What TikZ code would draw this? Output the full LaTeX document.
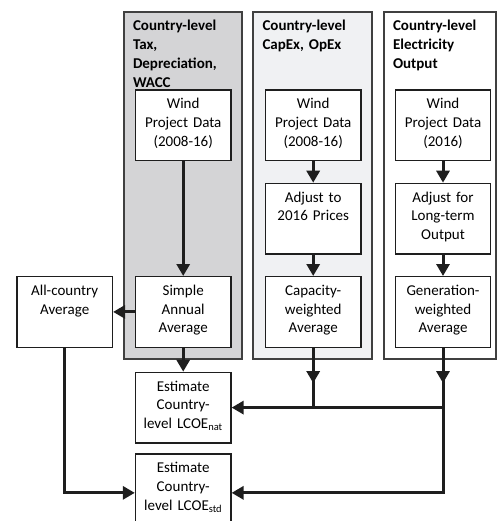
\documentclass[tikz,border=0pt]{standalone}
\usepackage{fontspec}
\setmainfont{Carlito}
\usetikzlibrary{arrows.meta}
\definecolor{panelgray}{RGB}{212,212,214}
\definecolor{panellight}{RGB}{240,241,243}
\definecolor{edgegray}{RGB}{64,64,64}
\definecolor{linedark}{RGB}{30,30,30}
\begin{document}
\begin{tikzpicture}[x=1pt, y=-1pt,
  font=\fontsize{15}{18.7}\selectfont,
  panel/.style={draw=edgegray, line width=1.8pt},
  head/.style={anchor=base west, inner sep=0pt, text width=105pt, align=left, font=\fontsize{15}{18.7}\selectfont\bfseries},
  box/.style={draw=linedark, line width=1.3pt, fill=white, anchor=north, text width=89.5pt, align=center, inner xsep=3pt, inner ysep=4pt, text height=14.8pt, text depth=47.7pt},
  conn/.style={draw=linedark, line width=3pt},
  arr/.style={conn, -{Triangle[length=12pt, width=13pt]}}]
  \useasboundingbox (0, 0) rectangle (497, 521);
  % panels
  \filldraw [panel, fill=panelgray] (124, 12) rectangle (242, 359);
  \filldraw [panel, fill=panellight] (253.3, 12) rectangle (372, 359);
  \filldraw [panel, fill=white] (384, 12) rectangle (496, 359);
  \node [head] (taxhead) at (132.8, 31) {Country-level\\Tax,\\Depreciation,\\WACC};
  \node [head] (capexhead) at (262.3, 31) {Country-level\\CapEx, OpEx};
  \node [head] (outhead) at (392.8, 31) {Country-level\\Electricity\\Output};
  % boxes
  \node [box] (wind1) at (183.2, 89.5) {Wind\\Project Data\\(2008-16)};
  \node [box] (avg1) at (183.2, 276) {Simple\\Annual\\Average};
  \node [box] (wind2) at (313.2, 89.5) {Wind\\Project Data\\(2008-16)};
  \node [box] (prices) at (313.2, 182.7) {Adjust to\\2016 Prices};
  \node [box] (cap) at (313.2, 276) {Capacity-\\weighted\\Average};
  \node [box] (wind3) at (443, 89.5) {Wind\\Project Data\\(2016)};
  \node [box] (longterm) at (443, 182.7) {Adjust for\\Long-term\\Output};
  \node [box] (gen) at (443, 276) {Generation-\\weighted\\Average};
  \node [box] (allc) at (64.7, 276) {All-country\\Average};
  \node [box] (nat) at (183.2, 371.7) {Estimate\\Country-\\level LCOE\textsubscript{nat}};
  \node [box, text depth=55pt] (std) at (183.2, 453.3) {Estimate\\Country-\\level LCOE\textsubscript{std}};
  % connectors
  \draw [arr] (wind1.south) -- (avg1.north);
  \draw [arr] (avg1.west) -- (allc.east);
  \draw [arr] (avg1.south) -- (nat.north);
  \draw [arr] (allc.south) |- (std.west);
  \draw [arr] (wind2.south) -- (prices.north);
  \draw [arr] (prices.south) -- (cap.north);
  \draw [arr] (wind3.south) -- (longterm.north);
  \draw [arr] (longterm.south) -- (gen.north);
  \draw [conn] (cap.south) -- (cap.south |- nat.east);
  \draw [arr] (cap.south) -- ++(0, 35.3);
  \draw [arr] (gen.south |- nat.east) -- (nat.east);
  \draw [arr] (gen.south) |- (std.east);
  \draw [arr] (gen.south) -- ++(0, 35.3);
\end{tikzpicture}
\end{document}
